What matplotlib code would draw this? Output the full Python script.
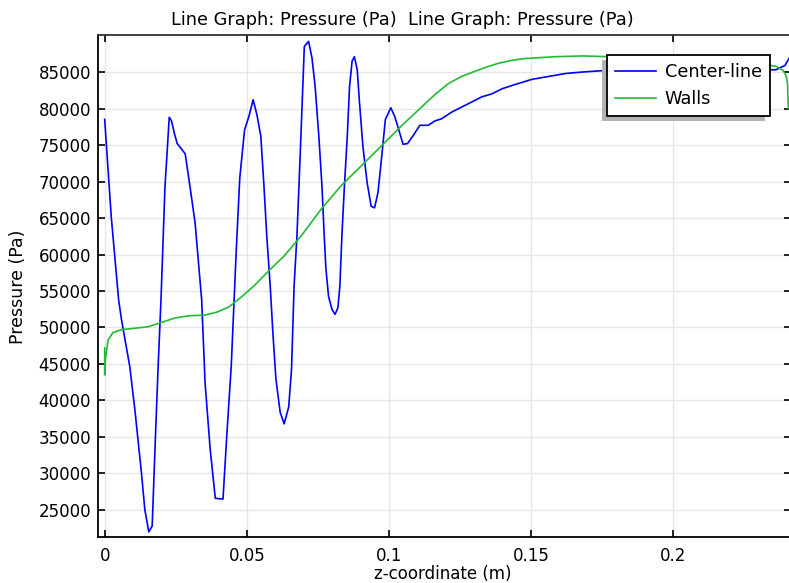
import matplotlib
matplotlib.use("Agg")
import matplotlib.pyplot as plt
from matplotlib.patches import Rectangle
from matplotlib.transforms import IdentityTransform

# ---- data ----
center_z = [0.0000, 0.0023, 0.0049, 0.0059, 0.0088, 0.0106, 0.0129, 0.0141, 0.0155, 0.0167,
            0.0179, 0.0188, 0.0198, 0.0212, 0.0220, 0.0227, 0.0235, 0.0245, 0.0255, 0.0269,
            0.0283, 0.0300, 0.0318, 0.0341, 0.0353, 0.0371, 0.0389, 0.0416, 0.0430, 0.0445,
            0.0462, 0.0475, 0.0492, 0.0507, 0.0522, 0.0535, 0.0549, 0.0560, 0.0570,
            0.0582, 0.0592, 0.0602, 0.0617, 0.0631, 0.0647, 0.0657, 0.0666, 0.0676, 0.0690,
            0.0702, 0.0717, 0.0729, 0.0740, 0.0753, 0.0764, 0.0772, 0.0778, 0.0787, 0.0799,
            0.0810, 0.0820, 0.0827, 0.0834, 0.0843, 0.0853, 0.0861, 0.0870, 0.0878, 0.0888,
            0.0896, 0.0908, 0.0923, 0.0937, 0.0949, 0.0961, 0.0973, 0.0987, 0.1006, 0.1020,
            0.1034, 0.1049, 0.1065, 0.1085, 0.1108, 0.1138, 0.1161, 0.1185, 0.1220, 0.1255,
            0.1291, 0.1326, 0.1361, 0.1397, 0.1444, 0.1503, 0.1562, 0.1621, 0.1680, 0.1756,
            0.1900, 0.2050, 0.2200, 0.2360, 0.2392, 0.2410]
center_p = [78500, 65200, 53800, 51100, 44700, 38800, 30200, 25100, 22000, 22800,
            35600, 44700, 53800, 69300, 74300, 78800, 78300, 76600, 75200, 74500,
            73800, 69300, 64300, 53800, 42400, 33300, 26600, 26500, 35600, 44700,
            60000, 70500, 77100, 78900, 81200, 79200, 76200, 69400, 62500,
            55700, 48900, 43000, 38400, 36800, 39100, 44300, 55700, 62500, 76200,
            88500, 89200, 86900, 83000, 76200, 69400, 62500, 58000, 54300, 52500,
            51800, 52700, 55700, 62500, 69400, 76200, 83000, 86500, 87100, 85300,
            80800, 74800, 69800, 66600, 66400, 68500, 73000, 78500, 80100, 78900,
            77100, 75100, 75200, 76300, 77700, 77700, 78300, 78600, 79500, 80200,
            80900, 81600, 82000, 82700, 83300, 84000, 84400, 84800, 85000, 85200,
            85300, 85350, 85400, 85300, 85900, 87100]

walls_z = [0.0000, 0.0000, 0.0003, 0.0012, 0.0029, 0.0059, 0.0106, 0.0153, 0.0200, 0.0247,
           0.0294, 0.0353, 0.0394, 0.0436, 0.0478, 0.0525, 0.0578, 0.0631, 0.0690, 0.0761,
           0.0831, 0.0914, 0.0984, 0.1043, 0.1114, 0.1161, 0.1208, 0.1255, 0.1302, 0.1344,
           0.1385, 0.1432, 0.1479, 0.1585, 0.1680, 0.1774, 0.1900, 0.2050, 0.2200, 0.2300,
           0.2360, 0.2386, 0.2396, 0.2401, 0.2404]
walls_p = [47200, 43500, 45800, 48300, 49300, 49700, 49900, 50100, 50700, 51300,
           51600, 51700, 52100, 52800, 54100, 55700, 57800, 59800, 62500, 66200,
           69400, 72600, 75300, 77600, 80200, 81900, 83400, 84400, 85100, 85700,
           86200, 86600, 86850, 87100, 87200, 87100, 87100, 86900, 86500, 86100,
           85800, 85200, 84500, 83400, 80000]

x_ticks = [0, 0.05, 0.1, 0.15, 0.2]
x_tick_labels = ["0", "0.05", "0.1", "0.15", "0.2"]
y_ticks = list(range(25000, 85001, 5000))

series_labels = ["Center-line", "Walls"]
title_text = "Line Graph: Pressure (Pa)  Line Graph: Pressure (Pa)"

# ---- figure ----
W, H = 789, 583
plt.rcParams['font.family'] = ['DejaVu Sans']
fig = plt.figure(figsize=(W / 100, H / 100), dpi=100)
ax = fig.add_axes([98 / W, 46 / H, (791.5 - 98) / W, (548 - 46) / H])

ax.plot(center_z, center_p, color='#0000ff', lw=1.2, label=series_labels[0], zorder=3)
ax.plot(walls_z, walls_p, color='#22bb33', lw=1.2, label=series_labels[1], zorder=3)

ax.set_xlim(-0.00235, 0.2415)
ax.set_ylim(21300, 90070)
ax.set_xticks(x_ticks)
ax.set_xticklabels(x_tick_labels)
ax.set_yticks(y_ticks)
ax.grid(True, color='#e6e6e6', lw=1.0, zorder=0)
ax.set_axisbelow(True)

ax.tick_params(direction='in', length=5, width=1.2, top=True, right=True,
               labelsize=12, colors='black')
ax.tick_params(axis='y', pad=5)
ax.tick_params(axis='x', pad=7)
for s in ['left', 'bottom', 'top', 'right']:
    ax.spines[s].set_linewidth(1.3)
    ax.spines[s].set_color('black')
ax.spines['top'].set_color('#333333')

fig.text(402.5 / W, 1 - 20 / H, title_text, ha='center', va='center', fontsize=12.75)
fig.text(443 / W, 1 - 574 / H, "z-coordinate (m)", ha='center', va='center', fontsize=12)
fig.text(18 / W, 1 - 287 / H, "Pressure (Pa)", ha='center', va='center',
         rotation=90, fontsize=12.5)

leg = ax.legend(loc='upper left', bbox_to_anchor=(607 / W, 1 - 55 / H),
                bbox_transform=fig.transFigure, borderaxespad=0, fontsize=12.8,
                fancybox=False, framealpha=1, edgecolor='black', handlelength=2.3,
                handletextpad=0.5, borderpad=0.45, labelspacing=0.5)
leg.get_frame().set_linewidth(1.3)
leg.set_zorder(10)

fig.canvas.draw()
bb = leg.get_window_extent()
shadow = Rectangle((bb.x0 - 5, bb.y0 - 5), bb.width, bb.height, transform=IdentityTransform(),
                   facecolor='#b3b3b3', edgecolor='none', zorder=9, clip_on=False)
ax.add_artist(shadow)

fig.savefig("out.png", dpi=100)
